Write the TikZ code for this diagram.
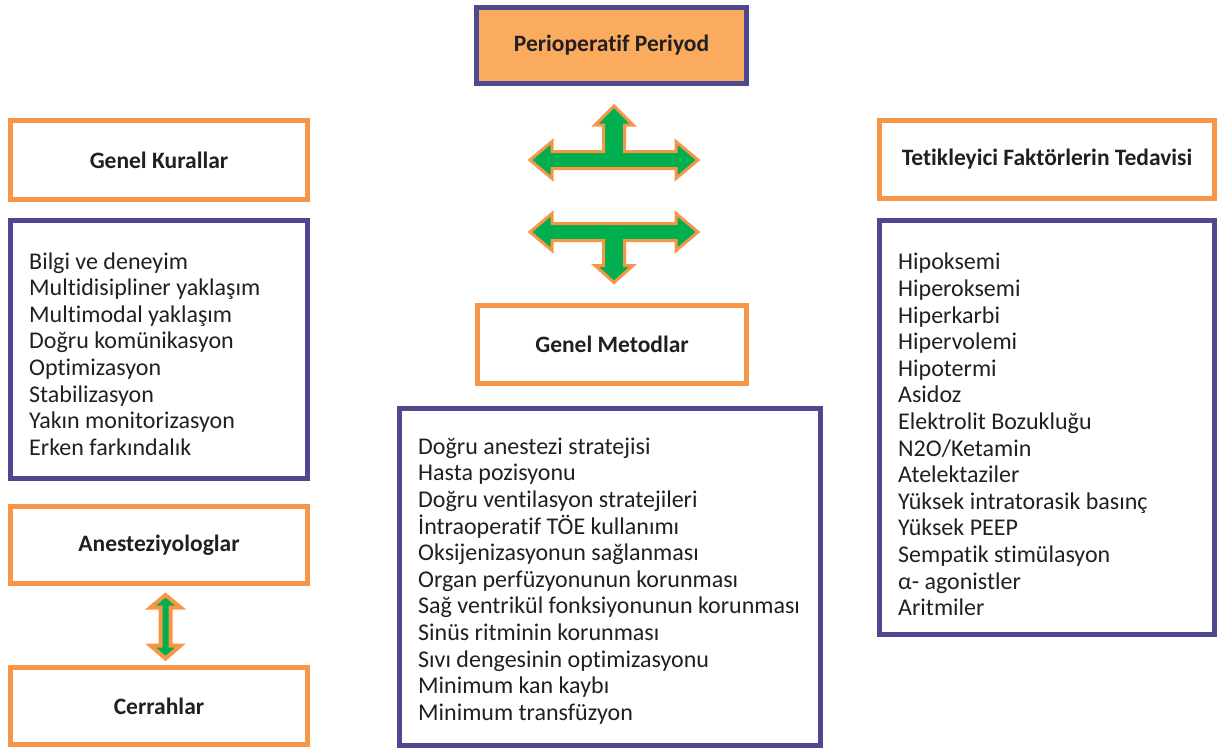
\documentclass[tikz,border=0pt]{standalone}
\usepackage{fontspec}
\setmainfont{Carlito}[RawFeature=-liga]
\definecolor{obord}{HTML}{F79646}
\definecolor{pbord}{HTML}{4E4891}
\definecolor{ofill}{HTML}{FAAB5E}
\definecolor{agreen}{HTML}{00B050}
\definecolor{txt}{HTML}{231F20}
\tikzset{
  obox/.style={draw=obord, line width=5pt, fill=white, rectangle, inner sep=0pt, text=txt,
    font=\fontsize{23.5}{28}\selectfont\bfseries},
  pbox/.style={draw=pbord, line width=5pt, fill=white, rectangle, inner sep=0pt},
  listtxt/.style={anchor=west, inner sep=0pt, align=left, text=txt,
    font=\fontsize{24}{26.6}\selectfont},
  blockarrow/.style={draw=obord, fill=agreen, line width=3pt, line join=miter},
}
\begin{document}
\begin{tikzpicture}[x=1pt,y=-1pt]
\useasboundingbox (0,0) rectangle (1217,750);

% header
\node[pbox, fill=ofill, text=txt, font=\fontsize{23.5}{28}\selectfont\bfseries,
  minimum width=270pt, minimum height=76pt] (peri) at (611.5,45.5) {Perioperatif Periyod};

% left column
\node[obox, minimum width=297pt, minimum height=79pt] (kural) at (159,160) {Genel Kurallar};
\node[pbox, minimum width=297pt, minimum height=258pt] (kurallist) at (159,349.5) {};
\node[listtxt] (kuraltxt) at (29,354) {Bilgi ve deneyim\\Multidisipliner yaklaşım\\Multimodal yaklaşım\\Doğru komünikasyon\\Optimizasyon\\Stabilizasyon\\Yakın monitorizasyon\\Erken farkındalık};
\node[obox, minimum width=297pt, minimum height=77pt] (anest) at (159,545) {Anesteziyologlar};
\node[obox, minimum width=297pt, minimum height=77pt] (cerr) at (159,706) {Cerrahlar};

% middle column
\node[obox, minimum width=269pt, minimum height=78pt] (metod) at (612,344.5) {Genel Metodlar};
\node[pbox, minimum width=421pt, minimum height=337pt] (metodlist) at (610,577) {};
\node[listtxt] (metodtxt) at (418,581) {Doğru anestezi stratejisi\\Hasta pozisyonu\\Doğru ventilasyon stratejileri\\İntraoperatif TÖE kullanımı\\Oksijenizasyonun sağlanması\\Organ perfüzyonunun korunması\\Sağ ventrikül fonksiyonunun korunması\\Sinüs ritminin korunması\\Sıvı dengesinin optimizasyonu\\Minimum kan kaybı\\Minimum transfüzyon};

% right column
\node[obox, minimum width=335pt, minimum height=78pt] (tetik) at (1047,159.5) {Tetikleyici Faktörlerin Tedavisi};
\node[pbox, minimum width=335pt, minimum height=414pt] (tetiklist) at (1047,427.5) {};
\node[listtxt] (tetiktxt) at (898,434.5) {Hipoksemi\\Hiperoksemi\\Hiperkarbi\\Hipervolemi\\Hipotermi\\Asidoz\\Elektrolit Bozukluğu\\N2O/Ketamin\\Atelektaziler\\Yüksek intratorasik basınç\\Yüksek PEEP\\Sempatik stimülasyon\\α- agonistler\\Aritmiler};

% block arrows
\coordinate (c1) at (614,160);
\draw[blockarrow] ([shift={(-84,0)}]c1) -- ++(22,-18.5) -- ++(0,10) -- ++(51.5,0) -- ++(0,-26.5)
  -- ++(-8.5,0) -- ++(19,-19) -- ++(19,19) -- ++(-8.5,0) -- ++(0,26.5) -- ++(51.5,0)
  -- ++(0,-10) -- ++(22,18.5) -- ++(-22,18.5) -- ++(0,-10) -- ++(-124,0) -- ++(0,10) -- cycle;

\coordinate (c2) at (614,232);
\draw[blockarrow] ([shift={(-84,0)}]c2) -- ++(22,-18.5) -- ++(0,10) -- ++(124,0) -- ++(0,-10)
  -- ++(22,18.5) -- ++(-22,18.5) -- ++(0,-10) -- ++(-51.5,0) -- ++(0,25)
  -- ++(8.5,0) -- ++(-19,17) -- ++(-19,-17) -- ++(8.5,0) -- ++(0,-25) -- ++(-51.5,0)
  -- ++(0,10) -- cycle;

% small double arrow between Anesteziyologlar and Cerrahlar
\coordinate (c3) at (165.5,626.5);
\draw[blockarrow, line width=4pt] ([shift={(0,-31.5)}]c3) -- ++(15,12.5) -- ++(-10,0) -- ++(0,38)
  -- ++(10,0) -- ++(-15,13) -- ++(-15,-13) -- ++(10,0) -- ++(0,-38) -- ++(-10,0) -- cycle;
\end{tikzpicture}
\end{document}
